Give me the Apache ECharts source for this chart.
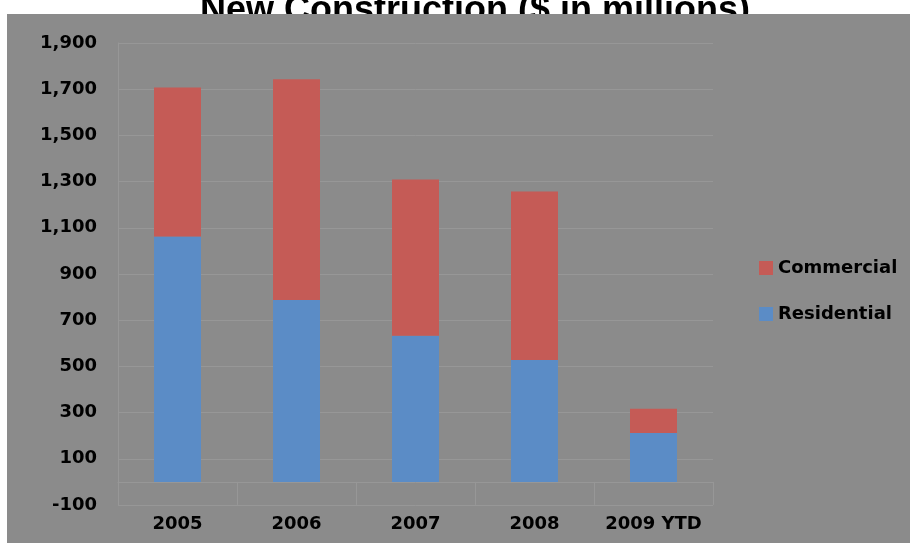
<!DOCTYPE html>
<html>
<head>
<meta charset="utf-8">
<script src="https://cdn.jsdelivr.net/npm/echarts@6/dist/echarts.min.js"></script>
<style>
  html, body { margin: 0; padding: 0; background: #fff; }
  #chart { width: 910px; height: 543px; }
</style>
</head>
<body>
<div id="chart"></div>
<script>
var years = ['2005', '2006', '2007', '2008', '2009 YTD'];
var residential = [1062, 787, 633, 528, 212];
var commercial = [645, 956, 676, 729, 105];
var yTicks = { min: -100, max: 1900, step: 200 };

var myChart = echarts.init(document.getElementById('chart'));
var lineColor = '#979797';
var font = 'DejaVu Sans';

var option = {
    backgroundColor: '#ffffff',
    animation: false,
    // title lives on the lower canvas layer, the grey panel covers its bottom
    title: {
        text: 'New Construction ($ in millions)',
        left: 470,
        top: -12,
        textAlign: 'center',
        zlevel: 0,
        textStyle: {
            fontFamily: 'Liberation Sans',
            fontWeight: 'bold',
            fontSize: 36,
            lineHeight: 36,
            color: '#000'
        }
    },
    graphic: [{
        type: 'rect',
        zlevel: 1,
        z: 0,
        shape: { x: 7, y: 14, width: 903, height: 529 },
        style: { fill: '#8b8b8b' }
    }],
    legend: {
        orient: 'vertical',
        left: 754,
        top: 254,
        itemWidth: 14,
        itemHeight: 14,
        itemGap: 28,
        icon: 'rect',
        zlevel: 1,
        z: 5,
        data: ['Commercial', 'Residential'],
        textStyle: {
            fontFamily: font,
            fontWeight: 'bold',
            fontSize: 18,
            lineHeight: 18,
            color: '#000'
        },
        itemStyle: { borderWidth: 0 }
    },
    grid: {
        left: 118,
        right: 197,
        top: 43,
        bottom: 38,
        outerBoundsMode: 'none'
    },
    xAxis: {
        type: 'category',
        data: years,
        zlevel: 1,
        z: 3,
        axisLine: { onZero: true, lineStyle: { color: lineColor, width: 1 } },
        axisTick: { show: true, length: 23, inside: false, lineStyle: { color: lineColor } },
        axisLabel: {
            interval: 0,
            margin: 10,
            fontFamily: font,
            fontWeight: 'bold',
            fontSize: 18,
            color: '#000'
        }
    },
    yAxis: {
        type: 'value',
        min: yTicks.min,
        max: yTicks.max,
        interval: yTicks.step,
        zlevel: 1,
        z: 3,
        axisLine: { show: true, lineStyle: { color: lineColor } },
        axisTick: { show: false },
        splitLine: { show: true, lineStyle: { color: lineColor, width: 1 } },
        axisLabel: {
            margin: 21,
            fontFamily: font,
            fontWeight: 'bold',
            fontSize: 18,
            color: '#000',
            formatter: function (v) { return v.toLocaleString('en-US'); }
        }
    },
    series: [
        {
            name: 'Residential',
            type: 'bar',
            stack: 'total',
            barWidth: 47,
            zlevel: 1,
            z: 4,
            data: residential,
            itemStyle: { color: '#5b8cc6' }
        },
        {
            name: 'Commercial',
            type: 'bar',
            stack: 'total',
            barWidth: 47,
            zlevel: 1,
            z: 4,
            data: commercial,
            itemStyle: { color: '#c55b56' }
        }
    ]
};

myChart.setOption(option);
</script>
</body>
</html>
